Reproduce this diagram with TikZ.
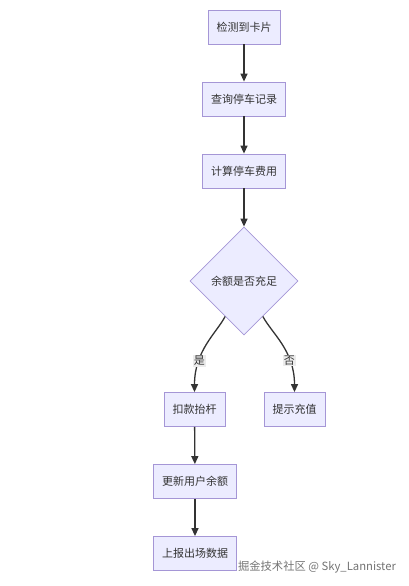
\documentclass[tikz,border=0pt]{standalone}
\usepackage{fontspec}
\setmainfont{Noto Sans CJK SC}
\usepackage{xcolor}
\usetikzlibrary{arrows.meta, shapes.geometric}

\definecolor{boxfill}{HTML}{ECECFF}
\definecolor{boxline}{HTML}{A596D6}
\definecolor{ink}{HTML}{333333}
\definecolor{lblbg}{HTML}{ECECEC}

\begin{document}
\begin{tikzpicture}[x=1pt, y=-1pt, >={Triangle[length=8pt,width=7pt]},
    box/.style={draw=boxline, fill=boxfill, line width=0.8pt, text=ink,
        font=\fontsize{11}{13}\selectfont, minimum height=34pt, inner xsep=8.5pt},
    decide/.style={diamond, draw=boxline, fill=boxfill, line width=0.8pt, text=ink,
        font=\fontsize{11}{13}\selectfont, inner sep=0pt, minimum size=108pt},
    arr/.style={->, draw=ink, line width=1.3pt},
    lbl/.style={fill=lblbg, text=ink, inner sep=1pt, font=\fontsize{11}{13}\selectfont}]
    \useasboundingbox (0,0) rectangle (409,586);

    % 1. Các bước chính
    \node[box] (detect) at (244,27) {检测到卡片};
    \node[box] (query) at (244,99) {查询停车记录};
    \node[box] (fee) at (244,171) {计算停车费用};
    \node[decide] (enough) at (244,281) {余额是否充足};

    % 2. Hai nhánh
    \node[box] (pay) at (194.5,409.5) {扣款抬杆};
    \node[box] (topup) at (294.5,409.5) {提示充值};
    \node[box] (update) at (195,481.5) {更新用户余额};
    \node[box] (report) at (195,553.5) {上报出场数据};

    % 3. Mũi tên
    \draw[arr] (enough) to[out=-118, in=90, out looseness=0.6, in looseness=1.3] node[lbl, pos=0.7] {是} (pay);
    \draw[arr] (enough) to[out=-62, in=90, out looseness=0.6, in looseness=1.3] node[lbl, pos=0.7] {否} (topup);
    \draw[arr] (detect) -- (query);
    \draw[arr] (query) -- (fee);
    \draw[arr] (fee) -- (enough);
    \draw[arr] (pay) -- (update);
    \draw[arr] (update) -- (report);

    \node[text=black!55, font=\fontsize{11.3}{13}\selectfont] (mark) at (317,567) {掘金技术社区 @ Sky\_Lannister};
\end{tikzpicture}
\end{document}
